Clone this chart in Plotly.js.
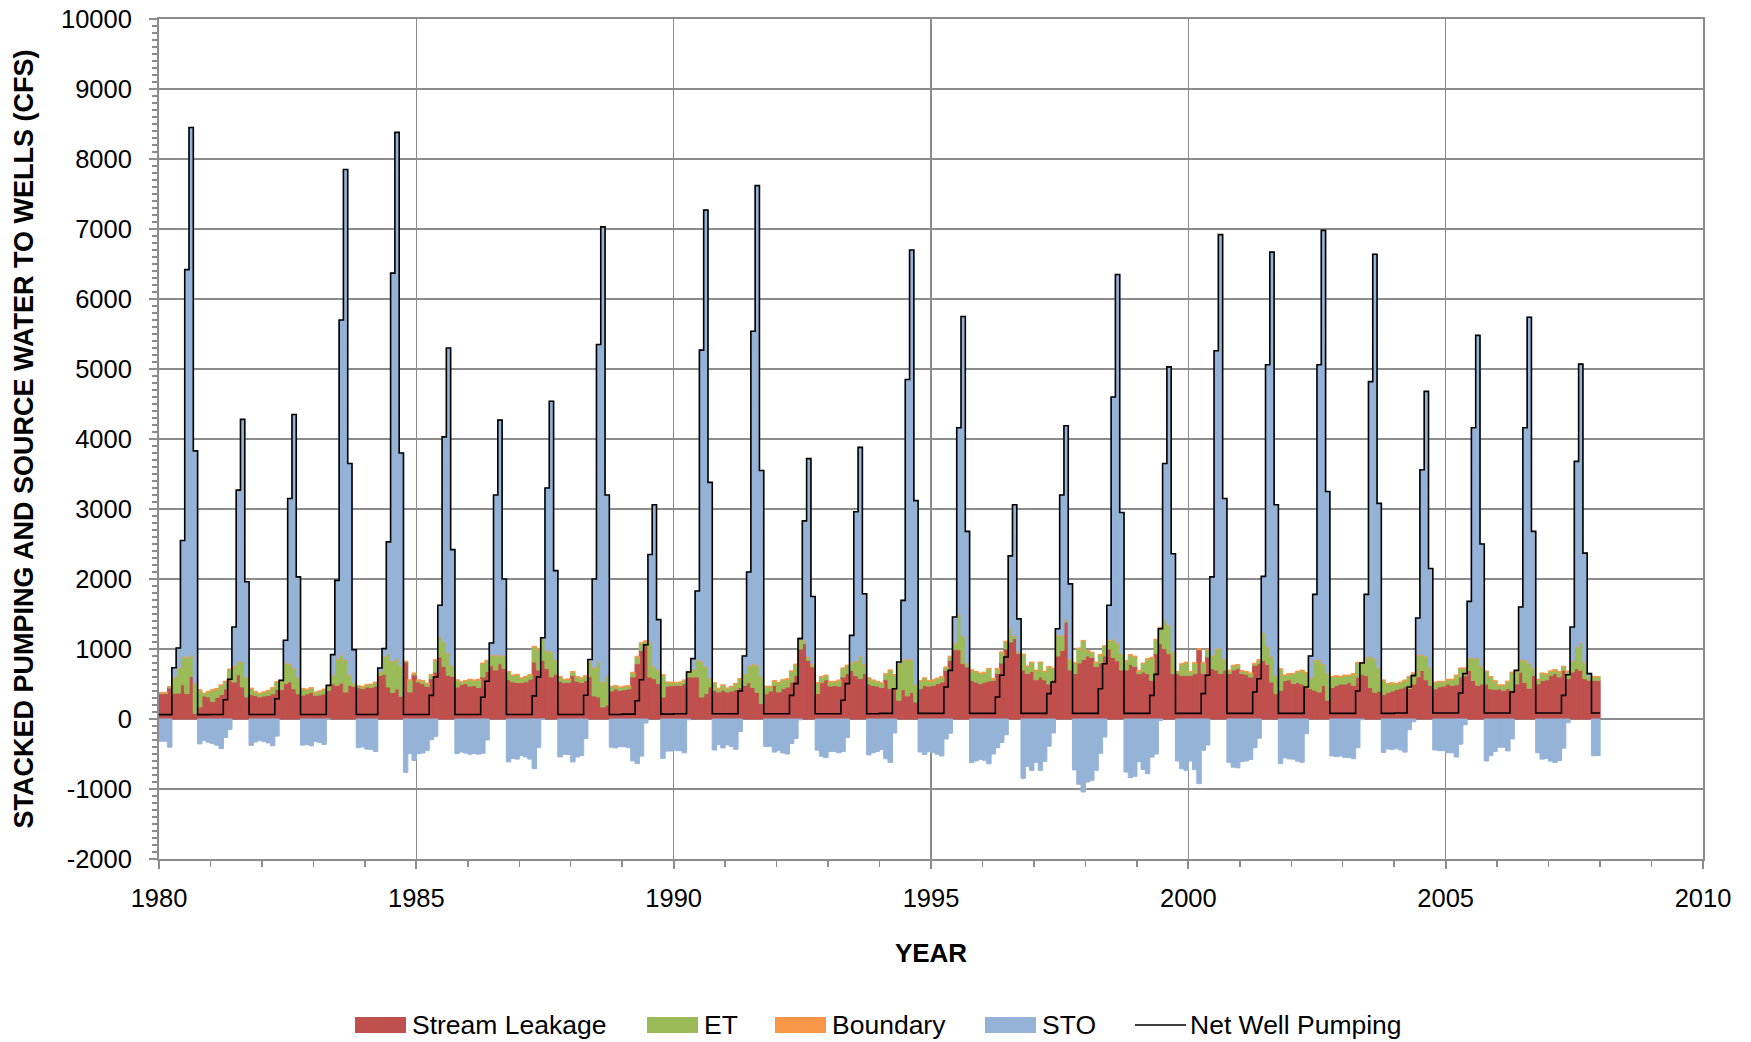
<!DOCTYPE html>
<html>
<head>
<meta charset="utf-8">
<script src="https://cdn.plot.ly/plotly-3.0.1.min.js"></script>
<style>
html,body{margin:0;padding:0;background:#fff;}
#chart{width:1751px;height:1042px;}
</style>
</head>
<body>
<div id="chart"></div>
<script>
// ---------------- DATA (monthly, Jan 1980 - Dec 2007, 12 values per line) ----------------
const startYear = 1980;
const endYear = 2007;

const seriesNames = ["Stream Leakage", "ET", "Boundary", "STO", "Net Well Pumping"];

const netWellPumping = [
  62,62,62,733,1014,2550,6420,8450,3830,62,62,62,        // 1980
  65,65,65,276,567,1314,3270,4280,1960,65,65,65,         // 1981
  65,65,65,290,552,1124,3150,4350,2030,65,65,65,         // 1982
  65,65,65,481,919,1981,5700,7850,3650,990,65,65,        // 1983
  65,65,65,729,1005,2530,6370,8380,3800,65,65,65,        // 1984
  65,65,65,338,600,1624,4030,5300,2420,65,65,65,         // 1985
  65,65,65,310,540,1086,3200,4270,2000,65,65,65,         // 1986
  65,65,65,330,600,1160,3300,4540,2120,65,65,65,         // 1987
  65,65,65,340,850,2000,5350,7030,3200,65,65,65,         // 1988
  70,70,70,260,560,1060,2350,3060,1419,70,70,70,         // 1989
  75,75,75,671,862,1829,5270,7270,3380,75,75,75,         // 1990
  75,75,75,400,900,2100,5540,7620,3550,75,75,75,         // 1991
  75,75,75,338,505,1148,2830,3720,1750,75,75,75,         // 1992
  75,75,75,267,505,1195,2960,3880,1790,75,75,75,         // 1993
  80,80,80,433,814,1695,4850,6700,3120,80,80,80,         // 1994
  80,80,80,457,695,1457,4160,5750,2680,80,80,80,         // 1995
  80,80,80,314,624,886,2330,3060,1430,80,80,80,          // 1996
  80,80,80,362,528,1290,3200,4190,1930,80,80,80,         // 1997
  80,80,80,433,790,1624,4600,6350,2950,80,80,80,         // 1998
  80,80,80,338,638,1290,3650,5030,2360,80,80,80,         // 1999
  80,80,80,362,624,2030,5260,6920,3150,80,80,80,         // 2000
  80,80,80,386,576,2038,5060,6670,3060,80,80,80,         // 2001
  80,80,80,457,900,1780,5060,6980,3250,80,80,80,         // 2002
  80,80,80,400,800,1780,4820,6640,3080,80,80,80,         // 2003
  85,85,85,457,620,1443,3560,4680,2150,85,85,85,         // 2004
  85,85,85,371,648,1681,4160,5480,2500,85,85,85,         // 2005
  85,85,85,386,695,1600,4160,5740,2680,85,85,85,         // 2006
  86,86,86,338,633,1314,3680,5070,2370,648,86,86         // 2007
];

const streamLeakage = [
  362,362,443,370,370,490,362,610,80,171,329,314,
  250,310,350,430,576,528,633,457,314,348,338,314,
  330,340,360,424,420,505,530,430,360,340,360,380,
  338,345,360,410,505,480,514,386,481,467,448,433,
  457,450,470,620,640,457,380,430,325,814,386,630,
  528,505,467,576,670,886,752,624,610,457,495,505,
  470,480,450,600,680,760,700,790,720,560,530,520,
  520,530,570,814,700,840,720,600,640,540,520,525,
  620,540,520,550,610,330,314,171,200,400,430,410,
  420,430,600,790,980,1076,600,576,505,314,470,480,
  481,481,505,600,600,600,314,362,457,410,386,410,
  386,400,420,450,480,520,450,380,219,360,400,480,
  386,433,457,528,624,1000,1076,838,743,362,520,560,
  470,480,470,600,650,695,620,580,650,500,480,470,
  450,560,433,433,267,420,330,380,243,433,480,470,
  481,505,528,695,838,990,990,790,743,552,528,505,
  528,543,552,650,800,1000,1100,1148,933,700,650,680,
  560,600,560,500,560,900,980,1386,700,650,800,850,
  900,880,750,800,900,1000,880,830,700,700,780,750,
  648,671,648,552,933,1076,1005,933,648,648,624,624,
  624,648,990,650,886,720,700,650,700,650,700,720,
  650,640,600,767,790,838,781,528,362,410,550,560,
  505,524,500,457,433,410,386,481,267,450,480,500,
  500,520,480,600,640,620,450,380,400,350,380,400,
  420,440,460,433,500,600,695,560,481,430,460,470,
  500,480,490,600,620,695,550,480,500,500,430,420,
  430,410,433,410,500,671,520,440,624,500,550,560,
  620,650,600,695,576,671,719,696,576,553,553,553
];

const evapotranspiration = [
  10,10,14,220,350,396,514,290,420,239,33,72,
  160,120,130,100,129,224,181,357,276,85,48,48,
  50,60,80,100,115,285,255,290,230,90,60,60,
  40,50,60,63,115,380,391,452,143,38,19,24,
  30,40,50,50,246,476,440,420,430,5,166,20,
  24,38,38,48,168,285,348,309,142,95,33,38,
  90,70,110,190,150,150,200,120,180,110,90,110,
  60,70,60,215,300,310,250,350,200,60,40,40,
  50,60,60,60,210,400,500,350,400,60,40,40,
  40,40,60,96,100,30,500,167,190,310,50,40,
  33,40,45,71,95,238,500,381,119,100,47,71,
  50,60,80,120,160,230,330,380,380,100,60,60,
  130,120,110,150,150,148,40,40,40,150,80,60,
  60,50,80,120,110,100,200,315,130,80,70,60,
  60,80,260,190,520,420,518,460,238,110,100,70,
  71,71,72,38,50,86,490,381,47,143,143,143,
  134,170,20,65,150,100,200,33,20,220,100,125,
  130,205,117,240,158,300,200,30,150,150,205,265,
  72,68,55,113,137,120,250,250,220,130,130,140,
  34,121,204,321,195,224,395,400,300,24,158,181,
  48,148,6,150,100,180,300,350,150,40,60,50,
  32,32,50,20,50,381,248,358,250,300,72,82,
  140,150,190,200,150,428,452,300,380,150,130,100,
  120,100,160,200,160,250,450,470,320,200,120,110,
  80,80,90,167,150,310,215,330,250,90,70,60,
  60,80,130,120,100,165,310,380,250,177,170,120,
  50,70,100,250,180,167,318,350,100,60,100,80,
  60,50,70,50,100,150,300,390,220,47,50,47
];

const boundary = [
  8,8,8,10,10,12,12,12,10,8,8,8,
  8,8,8,10,10,12,12,12,10,8,8,8,
  8,8,8,10,10,12,12,12,10,8,8,8,
  8,8,8,10,10,12,12,12,10,10,8,8,
  8,8,8,10,10,12,12,12,10,8,8,8,
  8,8,8,10,10,12,12,12,10,8,8,8,
  8,8,8,10,10,12,12,12,10,8,8,8,
  8,8,8,10,10,12,12,12,10,8,8,8,
  8,8,8,10,10,12,12,12,10,8,8,8,
  8,8,8,10,10,12,12,12,10,8,8,8,
  8,8,8,10,10,12,12,12,10,8,8,8,
  8,8,8,10,10,12,12,12,10,8,8,8,
  8,8,8,10,10,12,12,12,10,8,8,8,
  8,8,8,10,10,12,12,12,10,8,8,8,
  8,8,8,10,10,12,12,12,10,8,8,8,
  8,8,8,10,10,12,12,12,10,8,8,8,
  8,8,8,10,10,12,12,12,10,8,8,8,
  8,8,8,10,10,12,12,12,10,8,8,8,
  8,8,8,10,10,12,12,12,10,8,8,8,
  8,8,8,10,10,12,12,12,10,8,8,8,
  8,8,8,10,10,12,12,12,10,8,8,8,
  8,8,8,10,10,12,12,12,10,8,8,8,
  8,8,8,10,10,12,12,12,10,8,8,8,
  8,8,8,10,10,12,12,12,10,8,8,8,
  8,8,8,10,10,12,12,12,10,8,8,8,
  8,8,8,10,10,12,12,12,10,8,8,8,
  8,8,8,10,10,12,12,12,10,8,8,8,
  8,8,8,10,10,12,12,12,10,10,8,8
];

const storage = [
  -318,-318,-403,133,284,1652,5532,7538,3320,-356,-308,-332,
  -353,-373,-423,-264,-148,550,2444,3454,1360,-376,-329,-305,
  -323,-343,-383,-244,7,322,2353,3618,1430,-373,-363,-383,
  -321,-338,-363,-2,289,1109,4783,7000,3016,475,-410,-400,
  -430,-433,-463,49,109,1585,5538,7518,3035,-762,-495,-593,
  -495,-486,-448,-296,-248,441,2918,4355,1658,-495,-471,-486,
  -503,-493,-503,-490,-300,164,2288,3348,1090,-613,-563,-573,
  -523,-543,-573,-709,-410,-2,2318,3578,1270,-543,-503,-508,
  -613,-543,-523,-280,20,1258,4524,6497,2590,-403,-413,-393,
  -398,-408,-598,-636,-530,-58,1238,2305,714,-562,-458,-458,
  -447,-454,-483,-10,157,979,4444,6515,2794,-443,-366,-414,
  -369,-393,-433,-180,250,1338,4748,6848,2941,-393,-393,-473,
  -449,-486,-500,-350,-279,-12,1702,2830,957,-445,-533,-553,
  -463,-463,-483,-463,-265,388,2128,2973,1000,-513,-483,-463,
  -438,-568,-621,-200,17,843,3990,5848,2629,-471,-508,-468,
  -480,-504,-528,-286,-203,369,2668,4567,1880,-623,-599,-576,
  -590,-641,-500,-411,-336,-226,1018,1867,467,-848,-678,-733,
  -618,-733,-605,-388,-200,78,2008,2762,1070,-728,-933,-1043,
  -900,-876,-733,-490,-257,492,3458,5258,2020,-758,-838,-818,
  -610,-720,-780,-545,-500,-22,2238,3685,1402,-600,-710,-733,
  -600,-724,-924,-448,-372,1118,4248,5908,2290,-618,-688,-698,
  -610,-600,-578,-411,-274,807,4019,5772,2438,-638,-550,-570,
  -573,-602,-618,-210,307,930,4210,6187,2593,-528,-538,-528,
  -548,-548,-568,-410,-10,898,3908,5778,2350,-478,-428,-438,
  -423,-443,-473,-153,-40,521,2638,3778,1409,-443,-453,-453,
  -483,-483,-543,-359,-82,809,3288,4608,1740,-600,-523,-463,
  -403,-403,-456,-284,5,750,3310,4938,1946,-483,-573,-563,
  -602,-622,-592,-417,-53,481,2649,3972,1564,38,-525,-522
];

const xTickLabels = ["1980","1985","1990","1995","2000","2005","2010"];
const yTickLabels = ["-2000","-1000","0","1000","2000","3000","4000","5000","6000","7000","8000","9000","10000"];

// ---------------- BUILD ----------------
const nMonths = (endYear - startYear + 1) * 12;
const monthCenters = [];
const monthStarts = [];
for (let i = 0; i < nMonths; i++) {
  monthCenters.push(startYear + (i + 0.5) / 12);
  monthStarts.push(startYear + i / 12);
}
const lineX = monthStarts.concat([startYear + nMonths / 12]);
const lineY = netWellPumping.concat([netWellPumping[nMonths - 1]]);

const colors = {
  leak: "#C0504D",
  et: "#9BBB59",
  bnd: "#F79646",
  sto: "#95B3D7",
  line: "#000000"
};
const FONT = "Liberation Sans, Arial, Helvetica, sans-serif";

function barTrace(name, y, color) {
  return {
    type: "bar", name: name, x: monthCenters, y: y, width: 1.04 / 12,
    marker: { color: color, line: { color: color, width: 1 } },
    showlegend: false, hoverinfo: "x+y+name"
  };
}

const traces = [
  barTrace(seriesNames[0], streamLeakage, colors.leak),
  barTrace(seriesNames[1], evapotranspiration, colors.et),
  barTrace(seriesNames[2], boundary, colors.bnd),
  barTrace(seriesNames[3], storage, colors.sto),
  {
    type: "scatter", mode: "lines", name: seriesNames[4],
    x: lineX, y: lineY, line: { color: colors.line, width: 1.6, shape: "hv" },
    showlegend: false
  }
];

// plot area in pixels
const W = 1751, H = 1042;
const PL = 159, PR = 1703, PT = 19, PB = 859;
const px2x = p => (p - PL) / (PR - PL);
const py2y = p => (PB - p) / (PB - PT);

// custom legend (wide swatches, as in the original)
const legendY = 1025;
const legendItems = [
  { name: seriesNames[0], color: colors.leak, x0: 355, tx: 410, kind: "box" },
  { name: seriesNames[1], color: colors.et, x0: 647, tx: 702, kind: "box" },
  { name: seriesNames[2], color: colors.bnd, x0: 775, tx: 830, kind: "box" },
  { name: seriesNames[3], color: colors.sto, x0: 985, tx: 1040, kind: "box" },
  { name: seriesNames[4], color: colors.line, x0: 1135, tx: 1188, kind: "line" }
];
const shapes = [];
const annotations = [];
legendItems.forEach(it => {
  if (it.kind === "box") {
    shapes.push({
      type: "rect", xref: "paper", yref: "paper",
      x0: px2x(it.x0), x1: px2x(it.x0 + 51),
      y0: py2y(legendY + 8), y1: py2y(legendY - 8),
      fillcolor: it.color, line: { width: 0 }
    });
  } else {
    shapes.push({
      type: "line", xref: "paper", yref: "paper",
      x0: px2x(it.x0), x1: px2x(it.x0 + 51),
      y0: py2y(legendY), y1: py2y(legendY),
      line: { color: it.color, width: 1.5 }
    });
  }
  annotations.push({
    xref: "paper", yref: "paper", x: px2x(it.tx), y: py2y(legendY),
    xanchor: "left", yanchor: "middle", showarrow: false,
    text: it.name, font: { family: FONT, size: 26.5, color: "#000" }
  });
});

const gridCol = "#8C8C8C";
const layout = {
  width: W, height: H,
  margin: { l: PL, r: W - PR, t: PT, b: H - PB, pad: 0 },
  paper_bgcolor: "#fff", plot_bgcolor: "#fff",
  barmode: "relative", bargap: 0,
  showlegend: false,
  font: { family: FONT, color: "#000" },
  xaxis: {
    type: "linear", range: [1980, 2010], autorange: false,
    tickmode: "array", tickvals: xTickLabels.map(Number), ticktext: xTickLabels,
    showgrid: true, gridcolor: gridCol, gridwidth: 1.6,
    showline: true, linecolor: gridCol, linewidth: 2, mirror: true,
    ticks: "outside", ticklen: 8, tickwidth: 2, tickcolor: gridCol,
    minor: { dtick: 1, tick0: 1980, ticks: "outside", ticklen: 6, tickwidth: 1.5, tickcolor: gridCol, showgrid: false },
    tickfont: { family: FONT, size: 25.5, color: "#000" },
    ticklabelstandoff: 7,
    zeroline: false,
    title: { text: "<b>YEAR</b>", font: { family: FONT, size: 26, color: "#000" }, standoff: 33 },
    automargin: false
  },
  yaxis: {
    range: [-2000, 10000], autorange: false,
    tickmode: "array", tickvals: yTickLabels.map(Number), ticktext: yTickLabels,
    showgrid: true, gridcolor: gridCol, gridwidth: 1.6,
    showline: true, linecolor: gridCol, linewidth: 2, mirror: true,
    ticks: "outside", ticklen: 8, tickwidth: 2, tickcolor: gridCol,
    minor: { dtick: 100, tick0: 0, ticks: "outside", ticklen: 5, tickwidth: 1.2, tickcolor: gridCol, showgrid: false },
    tickfont: { family: FONT, size: 25.5, color: "#000" },
    ticklabelstandoff: 12,
    zeroline: false,
    title: { text: "<b>STACKED PUMPING AND SOURCE WATER TO WELLS (CFS)</b>", font: { family: FONT, size: 27, color: "#000" }, standoff: 20 },
    automargin: false
  },
  shapes: shapes,
  annotations: annotations
};

Plotly.newPlot("chart", traces, layout, { displayModeBar: false, staticPlot: true });
</script>
</body>
</html>
